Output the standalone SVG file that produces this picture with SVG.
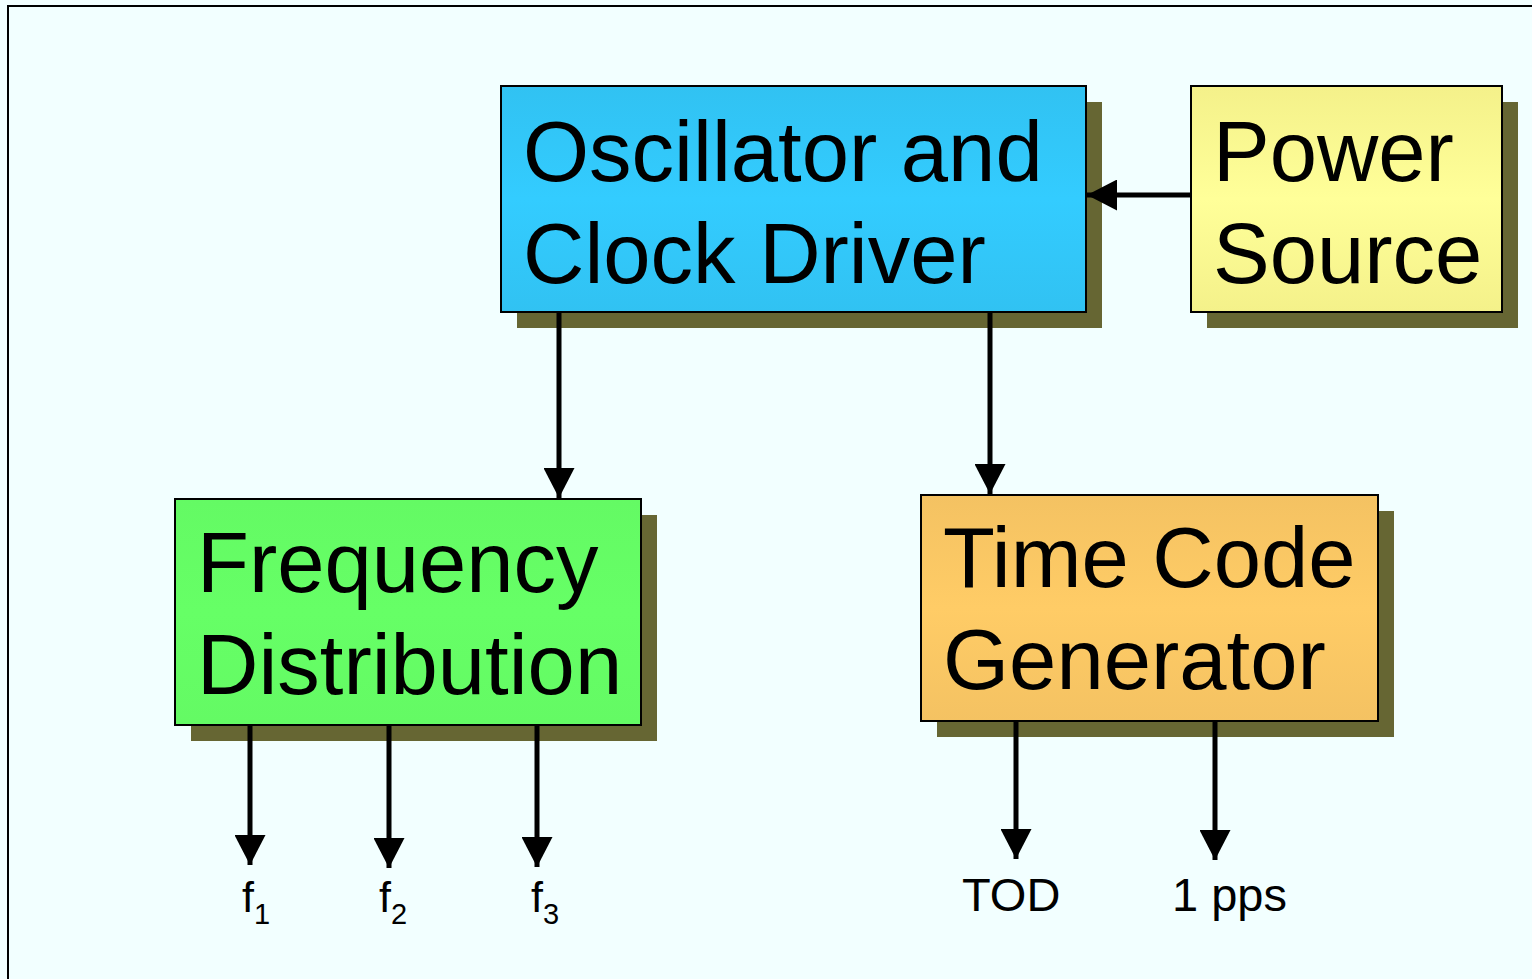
<svg xmlns="http://www.w3.org/2000/svg" width="1532" height="979" viewBox="0 0 1532 979">
  <defs>
    <linearGradient id="gBlue" x1="0" y1="0" x2="0" y2="1">
      <stop offset="0" stop-color="#31C2F2"/>
      <stop offset="0.5" stop-color="#33CCFF"/>
      <stop offset="1" stop-color="#31C2F2"/>
    </linearGradient>
    <linearGradient id="gYellow" x1="0" y1="0" x2="0" y2="1">
      <stop offset="0" stop-color="#F4F18A"/>
      <stop offset="0.5" stop-color="#FFFF99"/>
      <stop offset="1" stop-color="#F4F18A"/>
    </linearGradient>
    <linearGradient id="gGreen" x1="0" y1="0" x2="0" y2="1">
      <stop offset="0" stop-color="#64FA64"/>
      <stop offset="0.5" stop-color="#66FF66"/>
      <stop offset="1" stop-color="#64FA64"/>
    </linearGradient>
    <linearGradient id="gOrange" x1="0" y1="0" x2="0" y2="1">
      <stop offset="0" stop-color="#F4C262"/>
      <stop offset="0.5" stop-color="#FFCC66"/>
      <stop offset="1" stop-color="#F4C262"/>
    </linearGradient>
    <marker id="ah" markerUnits="userSpaceOnUse" markerWidth="30" markerHeight="31" viewBox="0 0 30 31" refX="30" refY="15.5" orient="auto">
      <path d="M0,0 L30,15.5 L0,31 Z" fill="#000"/>
    </marker>
  </defs>
  <style>
    .shadow { fill: #666633; }
    .box { stroke: #000; stroke-width: 2; }
    .big { font-family: "Liberation Sans", Arial, sans-serif; font-size: 85px; fill: #000; }
    .small { font-family: "Liberation Sans", Arial, sans-serif; font-size: 47px; fill: #000; }
    .fl { font-family: "Liberation Sans", Arial, sans-serif; font-size: 43px; fill: #000; }
    .sub { font-size: 29px; }
    .conn { stroke: #000; stroke-width: 5; fill: none; marker-end: url(#ah); }
  </style>
  <rect x="0" y="0" width="1532" height="979" fill="#F2FFFF"/>
  <rect x="8" y="6" width="1600" height="1100" fill="#F2FFFF" stroke="#000" stroke-width="2"/>

  <g id="oscillator">
    <rect class="shadow" x="517" y="102" width="585" height="226"/>
    <rect class="box" x="501" y="86" width="585" height="226" fill="url(#gBlue)"/>
    <text class="big" x="523" y="181">Oscillator and</text>
    <text class="big" x="523" y="283">Clock Driver</text>
  </g>

  <g id="power">
    <rect class="shadow" x="1207" y="102" width="311" height="226"/>
    <rect class="box" x="1191" y="86" width="311" height="226" fill="url(#gYellow)"/>
    <text class="big" x="1213" y="181">Power</text>
    <text class="big" x="1213" y="283">Source</text>
  </g>

  <g id="frequency">
    <rect class="shadow" x="191" y="515" width="466" height="226"/>
    <rect class="box" x="175" y="499" width="466" height="226" fill="url(#gGreen)"/>
    <text class="big" x="197" y="592">Frequency</text>
    <text class="big" x="197" y="694">Distribution</text>
  </g>

  <g id="timecode">
    <rect class="shadow" x="937" y="511" width="457" height="226"/>
    <rect class="box" x="921" y="495" width="457" height="226" fill="url(#gOrange)"/>
    <text class="big" x="943" y="587">Time Code</text>
    <text class="big" x="943" y="689">Generator</text>
  </g>

  <g id="connectors">
    <line class="conn" x1="1191" y1="195" x2="1087" y2="195"/>
    <line class="conn" x1="559" y1="313" x2="559" y2="498"/>
    <line class="conn" x1="990" y1="313" x2="990" y2="494"/>
    <line class="conn" x1="250" y1="726" x2="250" y2="865"/>
    <line class="conn" x1="389" y1="726" x2="389" y2="868"/>
    <line class="conn" x1="537" y1="726" x2="537" y2="867"/>
    <line class="conn" x1="1016" y1="722" x2="1016" y2="859"/>
    <line class="conn" x1="1215" y1="722" x2="1215" y2="860"/>
  </g>

  <g id="labels">
    <text class="fl" x="242" y="912">f<tspan class="sub" dy="12">1</tspan></text>
    <text class="fl" x="379" y="912">f<tspan class="sub" dy="12">2</tspan></text>
    <text class="fl" x="531" y="912">f<tspan class="sub" dy="12">3</tspan></text>
    <text class="small" x="962" y="911">TOD</text>
    <text class="small" x="1172" y="911">1 pps</text>
  </g>
</svg>
